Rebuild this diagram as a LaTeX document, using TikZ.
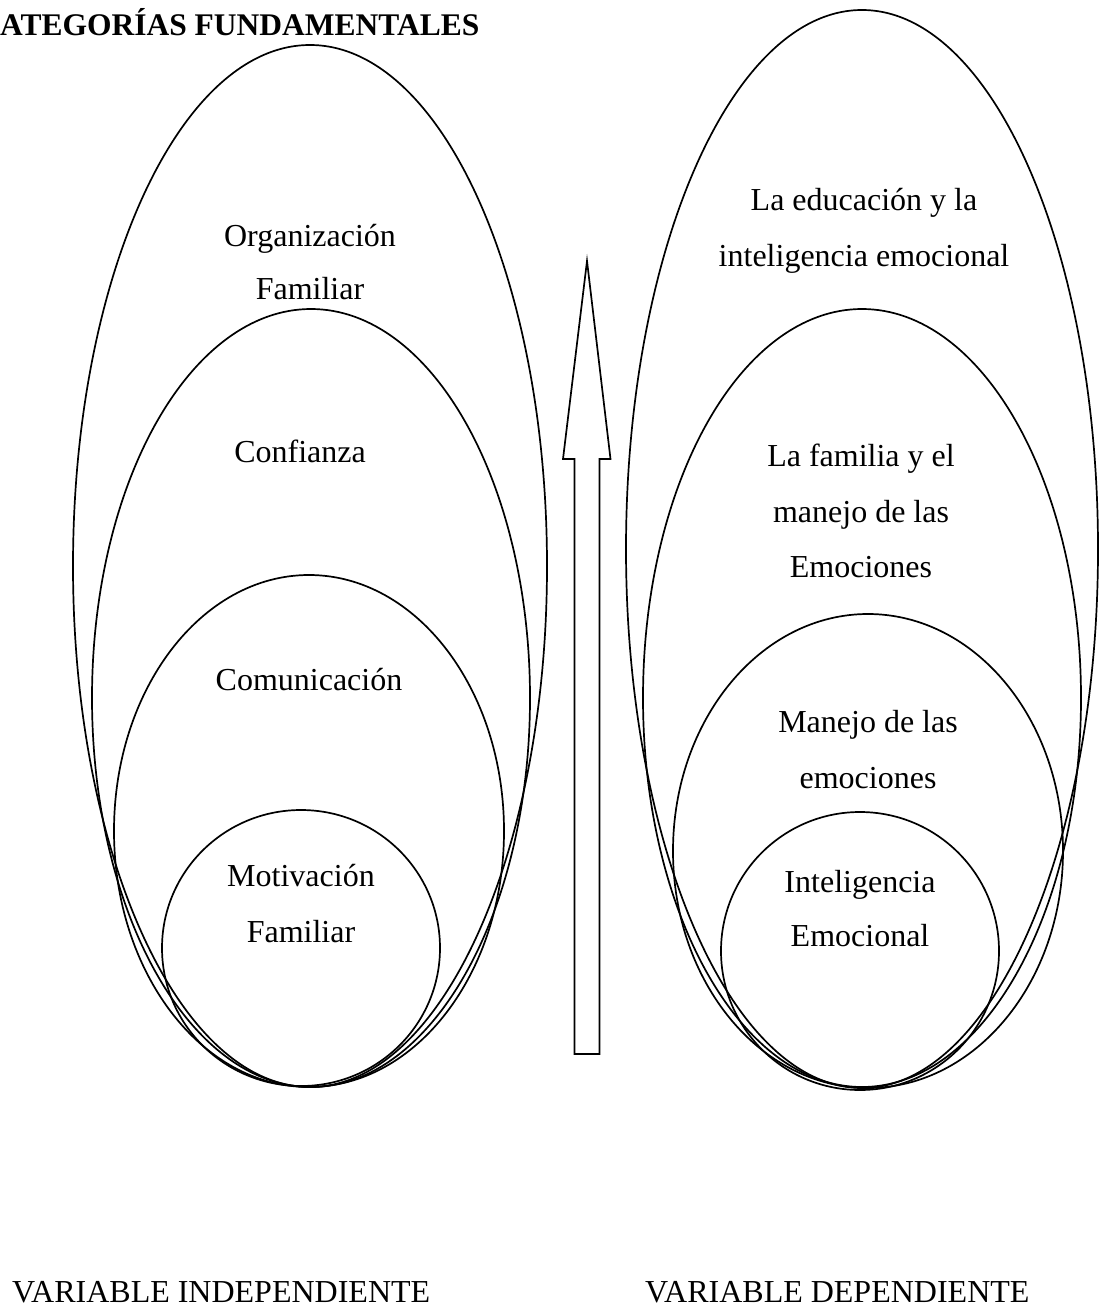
\documentclass[tikz,border=0pt]{standalone}
\usepackage{fontspec}
\setmainfont{Liberation Serif}
\usetikzlibrary{shapes.geometric}
\begin{document}
\begin{tikzpicture}[x=1pt,y=-1pt,
  ring/.style args={#1/#2}{draw, ellipse, line width=1.7pt, inner sep=0pt, outer sep=0pt,
     minimum width=#1pt, minimum height=#2pt},
  lab/.style={inner sep=0pt, anchor=base, font=\fontsize{32}{38}\selectfont},
  varlab/.style={inner sep=0pt, anchor=base west, font=\fontsize{32}{38}\selectfont},
  arrowshape/.style={draw, line width=1.7pt, line join=miter}]
\useasboundingbox (0,0) rectangle (1101,1311);

% title
\node[inner sep=0pt, anchor=base west, font=\bfseries\fontsize{31.5}{38}\selectfont] (title) at (0,36) {ATEGORÍAS FUNDAMENTALES};

% left group (variable independiente)
\node[ring=474/1042] (e1) at (310,566) {};
\node[ring=438/778] (e2) at (311,698) {};
\node[ring=390/512] (e3) at (309,831) {};
\node[ring=278/276] (e4) at (301,948) {};

\node[lab] (t1a) at (310,246) {Organización};
\node[lab] (t1b) at (310,299) {Familiar};
\node[lab] (t2) at (300,462) {Confianza};
\node[lab] (t3) at (309,690) {Comunicación};
\node[lab] (t4a) at (301,886) {Motivación};
\node[lab] (t4b) at (301,942) {Familiar};

% right group (variable dependiente)
\node[ring=472/1078] (r1) at (862,549) {};
\node[ring=438/778] (r2) at (862,698) {};
\node[ring=390/474] (r3) at (868,851) {};
\node[ring=278/278] (r4) at (860,951) {};

\node[lab] (s1a) at (864,210) {La educación y la};
\node[lab] (s1b) at (864,266) {inteligencia emocional};
\node[lab] (s2a) at (861,466) {La familia y el};
\node[lab] (s2b) at (861,522) {manejo de las};
\node[lab] (s2c) at (861,577) {Emociones};
\node[lab] (s3a) at (868,732) {Manejo de las};
\node[lab] (s3b) at (868,788) {emociones};
\node[lab] (s4a) at (860,892) {Inteligencia};
\node[lab] (s4b) at (860,946) {Emocional};

% central block arrow
\draw[arrowshape] (587,261) -- (610.5,459) -- (599.5,459) -- (599.5,1054)
  -- (574.5,1054) -- (574.5,459) -- (563,459) -- cycle;

% bottom labels
\node[varlab] (vi) at (12,1302) {VARIABLE INDEPENDIENTE};
\node[varlab] (vd) at (645,1302) {VARIABLE DEPENDIENTE};
\end{tikzpicture}
\end{document}
